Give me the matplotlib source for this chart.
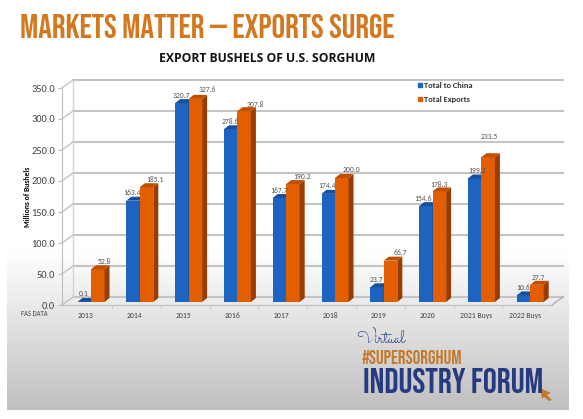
import matplotlib
matplotlib.use('Agg')
import matplotlib.pyplot as plt
from matplotlib.patches import Polygon
import numpy as np

years = ['2013', '2014', '2015', '2016', '2017', '2018', '2019', '2020', '2021 Buys', '2022 Buys']
china = [0.1, 163.4, 320.7, 278.6, 167.7, 174.4, 23.7, 154.6, 199.2, 10.6]
exports = [52.8, 185.1, 327.6, 307.8, 190.2, 200.0, 66.7, 178.3, 233.5, 27.7]
ticks = [0, 50, 100, 150, 200, 250, 300, 350]

# nudges of the value labels, in pixels
china_nudge = [-1, -1, 0, 0, 0, -1, -1, -3, 2, 0]
export_nudge = [7, 9, 12, 11, 9, 10, 10, 0, 1, 1]
export_lift = [4, 4, 5, 3, 4, 5, 4, 3, 17, 3]

label_font = ['Carlito', 'Liberation Sans', 'DejaVu Sans']
head_font = ['Bebas Neue', 'Liberation Sans Narrow', 'DejaVu Sans']
script_font = ['Sacramento', 'Allura', 'DejaVu Serif']

W, H = 583, 419
fig = plt.figure(figsize=(W / 100, H / 100), dpi=100, facecolor='white')

# slide background, white fading to grey at the bottom
bg = fig.add_axes([0, 0, 1, 1])
grad = np.ones((H, W))
rows = np.arange(H)
grad[:, :] = np.clip(1 - (rows - 250) / 160 * 0.25, 0.75, 1)[:, None]
grad[:, :7] = 1
grad[:, 569:] = 1
grad[410:, :] = 1
bg.imshow(grad, cmap='gray', vmin=0, vmax=1, aspect='auto', extent=(0, W, H, 0))
bg.set_xlim(0, W)
bg.set_ylim(H, 0)
bg.axis('off')

# chart axes, 0.0 sits at y=305 and 350.0 at y=88
right = 552
ax = fig.add_axes([62 / W, 1 - 305 / H, (right - 62) / W, 217 / H])
ax.patch.set_alpha(0)
ax.set_xlim(62, right)
ax.set_ylim(0, 350)
ppy = 350 / 217

# the category position is where the two bars meet
xpos = 91 + 48.8 * np.arange(len(years))
bw = 13.5
dx, dy = 5, 4 * ppy
base = 3 * ppy

wall_dx, wall_dy = 11, 8 * ppy
for t in ticks:
    ax.plot([62, 62 + wall_dx], [t, t + wall_dy], color='#c4c4c4', lw=1, clip_on=False)
    ax.plot([62 + wall_dx, right + wall_dx], [t + wall_dy, t + wall_dy], color='#c4c4c4', lw=1.5, clip_on=False)
ax.plot([62 + wall_dx, 62 + wall_dx], [wall_dy, 350 + wall_dy], color='#d4d4d4', lw=1, clip_on=False)
ax.plot([right, right + wall_dx], [0, wall_dy], color='#b0b0b0', lw=1, clip_on=False)


def bar3d(x0, val, front, side, top):
    y0 = base
    y1 = base + val
    ax.bar(x0, val, bw, bottom=y0, align='edge', color=front, zorder=3)
    ax.add_patch(Polygon([(x0 + bw, y0), (x0 + bw + dx, y0 + dy), (x0 + bw + dx, y1 + dy), (x0 + bw, y1)],
                         color=side, lw=0, zorder=3))
    ax.add_patch(Polygon([(x0, y1), (x0 + dx, y1 + dy), (x0 + bw + dx, y1 + dy), (x0 + bw, y1)],
                         color=top, lw=0, zorder=3))


for i in range(len(years)):
    bar3d(xpos[i] - bw, china[i], '#1c64c0', '#123f7e', '#174f9c')
    bar3d(xpos[i], exports[i], '#e25e00', '#973d02', '#c04f02')
    ax.text(xpos[i] - bw / 2 + china_nudge[i], base + china[i] + dy + 4 * ppy, '%.1f' % china[i], fontsize=5.5,
            color='#555555', family=label_font, ha='center', va='center', zorder=4)
    ax.text(xpos[i] + bw / 2 + export_nudge[i], base + exports[i] + dy + export_lift[i] * ppy, '%.1f' % exports[i],
            fontsize=5.5, color='#555555', family=label_font, ha='center', va='center', zorder=4)

for s in ['top', 'right']:
    ax.spines[s].set_visible(False)
ax.spines['left'].set_color('#bdbdbd')
ax.spines['bottom'].set_color('#bdbdbd')
ax.set_yticks(ticks)
ax.set_yticklabels(['%.1f' % t for t in ticks], fontsize=7.5, color='#444444', family=label_font)
ax.set_xticks(xpos - 5)
ax.set_xticklabels(years, fontsize=5.5, color='#444444', family=label_font)
ax.set_xticks(xpos[:-1] + 21, minor=True)
ax.tick_params(axis='x', which='major', length=0, pad=5)
ax.tick_params(axis='x', which='minor', length=2, color='#bdbdbd')
ax.tick_params(axis='y', length=3, color='#bdbdbd', pad=2)
ax.set_ylabel('Millions of Bushels', fontsize=5.5, fontweight='bold', family=label_font)
ax.yaxis.set_label_coords((31 - 62) / (right - 62), 0.5)

# legend
bg.add_patch(plt.Rectangle((417.5, 83), 4, 4, color='#1c64c0'))
bg.add_patch(plt.Rectangle((417.5, 97), 4, 4, color='#e25e00'))
bg.text(424, 85, 'Total to China', fontsize=6, fontweight='bold', va='center', color='#333333', family=label_font)
bg.text(424, 99, 'Total Exports', fontsize=6, fontweight='bold', va='center', color='#333333', family=label_font)

# slide text
bg.text(20, 37.5, 'MARKETS MATTER \u2014 EXPORTS SURGE', fontsize=24.5, color='#d4781e', family=head_font, va='baseline')
bg.text(267, 58.5, 'EXPORT BUSHELS OF U.S. SORGHUM', fontsize=8.7, fontweight='bold', color='#111111',
        family=['Open Sans', 'DejaVu Sans'], ha='center', va='center')
bg.text(21, 313.5, 'FAS DATA', fontsize=4.8, color='#444444', family=label_font, va='center')

# forum logo
bg.text(356, 344, 'Virtual', fontsize=13, color='#3b4a8c', family=script_font, va='baseline')
bg.text(362, 363.5, '#SUPERSORGHUM', fontsize=13.8, color='#c47a2c', family=head_font, va='baseline')
bg.text(363, 393, 'INDUSTRY FORUM', fontsize=25, color='#253a80', family=head_font, va='baseline')
bg.add_patch(Polygon([(540, 388), (551, 393), (547, 395), (552, 400), (549, 401), (544, 397), (542, 399)],
                     color='#c47a2c', lw=0))

fig.savefig('out.png', dpi=100)
